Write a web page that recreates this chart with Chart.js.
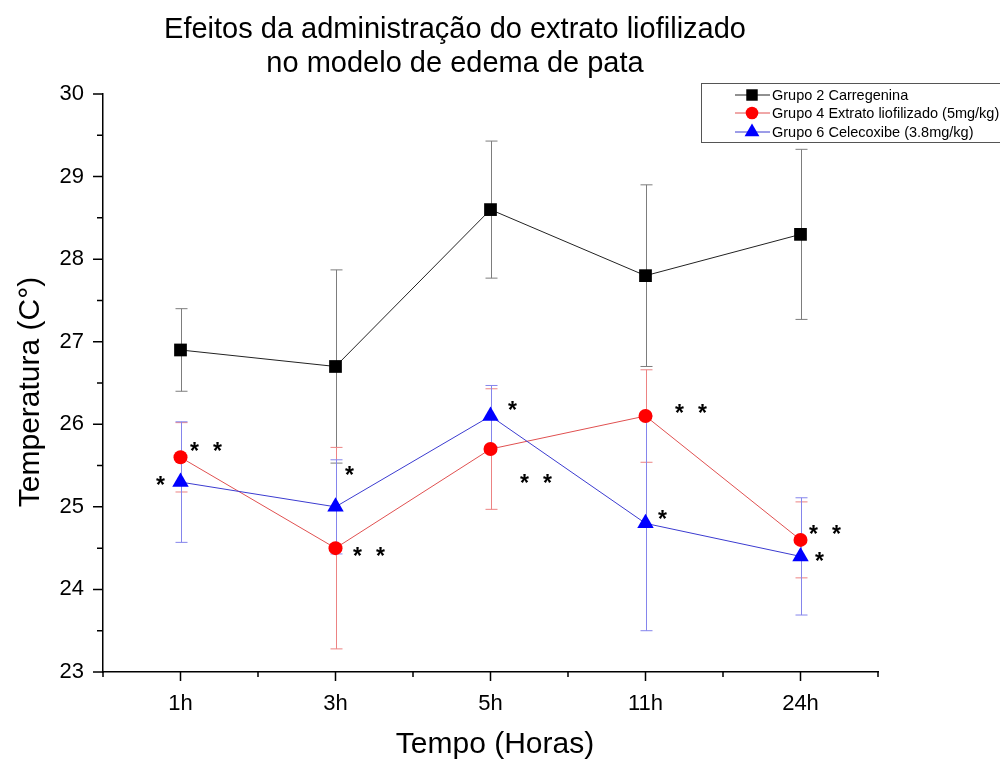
<!DOCTYPE html>
<html>
<head>
<meta charset="utf-8">
<script src="https://cdn.jsdelivr.net/npm/chart.js@4"></script>
<style>
  html, body { margin: 0; padding: 0; background: #fff; }
  #grafico-wrap { width: 1000px; height: 760px; }
</style>
</head>
<body>
<div id="grafico-wrap"><canvas id="grafico" width="1000" height="760"></canvas></div>
<script>
// DATOS
const horas = ['1h', '3h', '5h', '11h', '24h'];
const grupo2 = [26.9, 26.7, 28.6, 27.8, 28.3];
const grupo2Erro = [0.5, 1.17, 0.83, 1.1, 1.03];
const grupo4 = [25.6, 24.5, 25.7, 26.1, 24.6];
const grupo4Erro = [0.42, 1.22, 0.73, 0.56, 0.46];
const grupo6 = [25.3, 25.0, 26.1, 24.8, 24.4];
const grupo6Erro = [0.73, 0.57, 0.37, 1.3, 0.71];
const sig4 = [2, 2, 2, 2, 2];   // numero de asteriscos
const sig6 = [1, 1, 1, 1, 1];
const yTicks = [23, 24, 25, 26, 27, 28, 29, 30];
// DATOS END

const fonte = '"Liberation Sans", Arial, sans-serif';

// desplazamientos de los asteriscos (px, centro del primer *)
const offs4 = [[14, -10], [22, 4], [34, 30], [34, -7], [13, -10]];
const offs6 = [[-20, -1], [14, -36], [22, -10], [17, -8], [19, 1]];

const erroCores = ['#7d7d7d', '#ec8383', '#8585ec'];
const erros = [grupo2Erro, grupo4Erro, grupo6Erro];

const extras = {
  id: 'extras',
  beforeDatasetsDraw(chart) {
    const ctx = chart.ctx;
    const y = chart.scales.y;
    ctx.save();
    ctx.lineWidth = 1;
    chart.data.datasets.forEach((ds, i) => {
      const meta = chart.getDatasetMeta(i);
      ctx.strokeStyle = erroCores[i];
      ds.data.forEach((v, j) => {
        const px = Math.round(meta.data[j].x) + 0.5;
        const t = y.getPixelForValue(v + erros[i][j]);
        const b = y.getPixelForValue(v - erros[i][j]);
        ctx.beginPath();
        ctx.moveTo(px, t); ctx.lineTo(px, b);
        ctx.moveTo(px - 6, t); ctx.lineTo(px + 6, t);
        ctx.moveTo(px - 6, b); ctx.lineTo(px + 6, b);
        ctx.stroke();
      });
    });
    ctx.restore();
  },
  afterDraw(chart) {
    const ctx = chart.ctx;
    const x = chart.scales.x;
    const y = chart.scales.y;
    const area = chart.chartArea;
    ctx.save();
    // ticks
    ctx.strokeStyle = '#000';
    ctx.lineWidth = 1.5;
    ctx.beginPath();
    for (let v = 23; v <= 30; v += 0.5) {
      const py = y.getPixelForValue(v);
      const len = Number.isInteger(v) ? 10 : 6;
      ctx.moveTo(area.left - len, py); ctx.lineTo(area.left, py);
    }
    for (let k = -0.5; k <= horas.length - 0.5; k += 0.5) {
      const px = x.getPixelForValue(k);
      const len = Number.isInteger(k) ? 9 : 5;
      ctx.moveTo(px, area.bottom); ctx.lineTo(px, area.bottom + len);
    }
    ctx.stroke();

    // titulos
    ctx.fillStyle = '#000';
    ctx.textAlign = 'center';
    ctx.textBaseline = 'alphabetic';
    ctx.font = '29px ' + fonte;
    ctx.fillText('Efeitos da administração do extrato liofilizado', 455, 38);
    ctx.fillText('no modelo de edema de pata', 455, 72);
    ctx.font = '30px ' + fonte;
    ctx.fillText('Tempo (Horas)', 495, 753);
    ctx.save();
    ctx.translate(39, 392);
    ctx.rotate(-Math.PI / 2);
    ctx.font = '30px ' + fonte;
    ctx.fillText('Temperatura (C°)', 0, 0);
    ctx.restore();

    // asteriscos
    ctx.font = 'bold 23px ' + fonte;
    ctx.textAlign = 'center';
    const marcar = (idx, sig, offs) => {
      const meta = chart.getDatasetMeta(idx);
      sig.forEach((n, j) => {
        const p = meta.data[j];
        for (let s = 0; s < n; s++) {
          ctx.fillText('*', p.x + offs[j][0] + s * 23, p.y + offs[j][1] + 12);
        }
      });
    };
    marcar(1, sig4, offs4);
    marcar(2, sig6, offs6);

    // leyenda
    ctx.strokeStyle = '#555';
    ctx.lineWidth = 1;
    ctx.strokeRect(701.5, 83.5, 310, 59);
    ctx.font = '14.5px ' + fonte;
    ctx.textAlign = 'left';
    ctx.textBaseline = 'middle';
    const filas = [95, 113, 132];
    chart.data.datasets.forEach((ds, i) => {
      const fy = filas[i];
      ctx.strokeStyle = ds.borderColor;
      ctx.beginPath();
      ctx.moveTo(735, fy); ctx.lineTo(770, fy);
      ctx.stroke();
      ctx.fillStyle = ds.pointBackgroundColor;
      Chart.helpers.drawPoint(ctx, {
        pointStyle: ds.pointStyle, radius: ds.pointRadius * 0.9,
        rotation: 0, borderWidth: 0
      }, 752, fy);
      ctx.fillStyle = '#000';
      ctx.fillText(ds.label, 772, fy + 1);
    });
    ctx.restore();
  }
};

new Chart(document.getElementById('grafico'), {
  type: 'line',
  data: {
    labels: horas,
    datasets: [
      {
        label: 'Grupo 2 Carregenina',
        data: grupo2,
        borderColor: '#222',
        borderWidth: 1,
        pointStyle: 'rect',
        pointRadius: 9,
        pointBackgroundColor: '#000',
        pointBorderWidth: 0,
        order: 3
      },
      {
        label: 'Grupo 4 Extrato liofilizado (5mg/kg)',
        data: grupo4,
        borderColor: '#e05050',
        borderWidth: 1,
        pointStyle: 'circle',
        pointRadius: 7,
        pointBackgroundColor: '#ff0000',
        pointBorderWidth: 0,
        order: 2
      },
      {
        label: 'Grupo 6 Celecoxibe (3.8mg/kg)',
        data: grupo6,
        borderColor: '#3b3bd0',
        borderWidth: 1,
        pointStyle: 'triangle',
        pointRadius: 9.5,
        pointBackgroundColor: '#0000ff',
        pointBorderWidth: 0,
        order: 1
      }
    ]
  },
  options: {
    responsive: false,
    animation: false,
    layout: { padding: { top: 94, right: 122, left: 0, bottom: 0 } },
    plugins: {
      legend: { display: false },
      title: { display: false },
      tooltip: { enabled: false }
    },
    scales: {
      x: {
        type: 'category',
        offset: true,
        afterFit(scale) { scale.height = 88; },
        grid: { display: true, drawOnChartArea: false, drawTicks: false },
        border: { display: true, color: '#000', width: 1.5 },
        ticks: { color: '#000', padding: 19, font: { size: 22, family: fonte } }
      },
      y: {
        min: 23,
        max: 30,
        afterFit(scale) { scale.width = 103; },
        afterBuildTicks(scale) { scale.ticks = yTicks.map(v => ({ value: v })); },
        grid: { display: true, drawOnChartArea: false, drawTicks: false },
        border: { display: true, color: '#000', width: 1.5 },
        ticks: { color: '#000', padding: 19, font: { size: 22, family: fonte } }
      }
    }
  },
  plugins: [extras]
});
</script>
</body>
</html>
